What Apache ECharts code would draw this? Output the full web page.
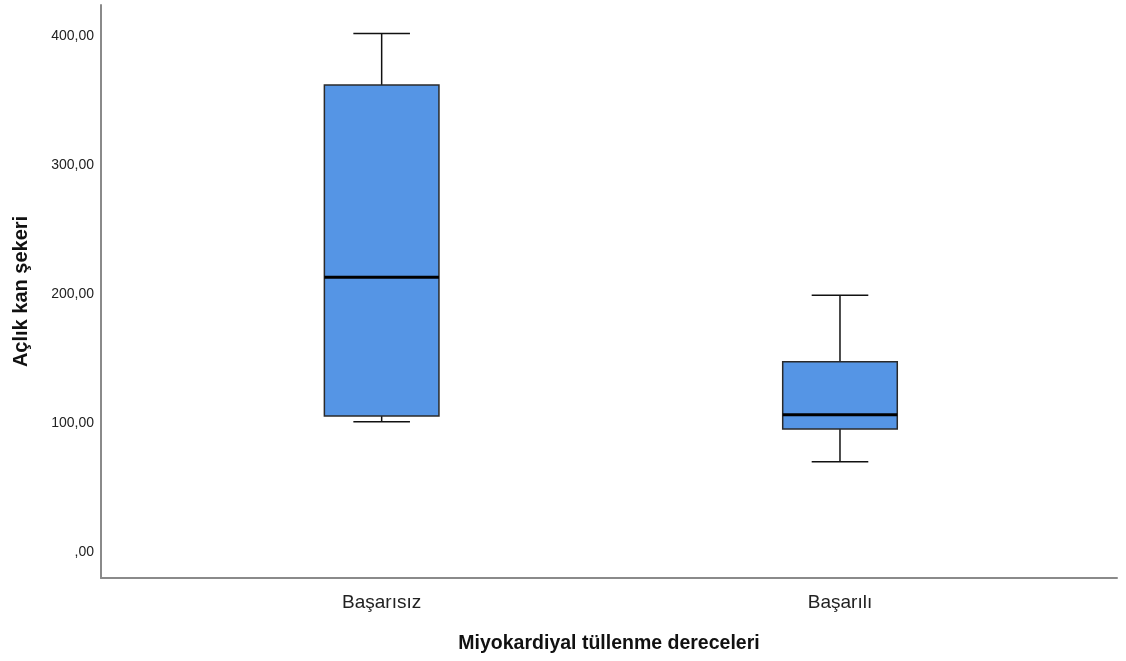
<!DOCTYPE html>
<html>
<head>
<meta charset="utf-8">
<script src="https://cdn.jsdelivr.net/npm/echarts@6/dist/echarts.min.js"></script>
<style>html,body{margin:0;padding:0;background:#fff;}#c{width:1126px;height:661px;}</style>
</head>
<body>
<div id="c"></div>
<script>
const categories = ['Başarısız', 'Başarılı'];
const minVals = [101, 70];
const q1Vals = [105.5, 95.5];
const medVals = [213, 106.5];
const q3Vals = [362, 147.5];
const maxVals = [402, 199];
const yTicks = [0, 100, 200, 300, 400];

const data = categories.map((c, i) => [i, minVals[i], q1Vals[i], medVals[i], q3Vals[i], maxVals[i]]);

function renderItem(params, api) {
  const x = api.value(0);
  const band = api.size([1, 0])[0];
  const bw = band * 0.25, cw = band * 0.1235;
  const pMin = api.coord([x, api.value(1)]);
  const pQ1 = api.coord([x, api.value(2)]);
  const pMed = api.coord([x, api.value(3)]);
  const pQ3 = api.coord([x, api.value(4)]);
  const pMax = api.coord([x, api.value(5)]);
  const cx = pMed[0];
  const lineStyle = { stroke: '#111', lineWidth: 1.5 };
  return {
    type: 'group',
    children: [
      { type: 'line', shape: { x1: cx, y1: pMax[1], x2: cx, y2: pQ3[1] }, style: lineStyle },
      { type: 'line', shape: { x1: cx, y1: pQ1[1], x2: cx, y2: pMin[1] }, style: lineStyle },
      { type: 'line', shape: { x1: cx - cw / 2, y1: pMax[1], x2: cx + cw / 2, y2: pMax[1] }, style: lineStyle },
      { type: 'line', shape: { x1: cx - cw / 2, y1: pMin[1], x2: cx + cw / 2, y2: pMin[1] }, style: lineStyle },
      { type: 'rect', shape: { x: cx - bw / 2, y: pQ3[1], width: bw, height: pQ1[1] - pQ3[1] },
        style: { fill: '#5595E5', stroke: '#2a2a2a', lineWidth: 1.5 } },
      { type: 'line', shape: { x1: cx - bw / 2, y1: pMed[1], x2: cx + bw / 2, y2: pMed[1] }, style: { stroke: '#000', lineWidth: 3 } }
    ]
  };
}

const chart = echarts.init(document.getElementById('c'), null, { renderer: 'canvas' });
const fontFam = '"Liberation Sans", Arial, sans-serif';
chart.setOption({
  backgroundColor: '#fff',
  animation: false,
  grid: [
    { left: 101, right: 9, top: 5, bottom: 83 },
    { left: 152.5, right: 56.85, top: 5, bottom: 83 }
  ],
  xAxis: [
    {
      gridIndex: 0, type: 'value', min: 0, max: 1,
      axisLine: { show: true, onZero: false, lineStyle: { color: '#8a8a8a', width: 2 } },
      axisTick: { show: false }, axisLabel: { show: false }, splitLine: { show: false },
      name: 'Miyokardiyal tüllenme dereceleri', nameLocation: 'middle', nameGap: 66,
      nameTextStyle: { fontFamily: fontFam, fontWeight: 'bold', fontSize: 19.5, color: '#111', verticalAlign: 'middle' }
    },
    {
      gridIndex: 1, type: 'category', data: categories,
      axisLine: { show: false }, axisTick: { show: false },
      axisLabel: { fontFamily: fontFam, fontSize: 19, color: '#222', margin: 15 }
    }
  ],
  yAxis: [
    {
      gridIndex: 0, type: 'value', min: -20, max: 424,
      axisLine: { show: true, onZero: false, lineStyle: { color: '#8a8a8a', width: 2 } },
      axisTick: { show: false }, splitLine: { show: false },
      axisLabel: {
        customValues: yTicks, margin: 7, fontFamily: fontFam, fontSize: 14, color: '#222',
        formatter: v => (v === 0 ? ',00' : v + ',00')
      },
      name: 'Açlık kan şekeri', nameLocation: 'middle', nameGap: 80, nameRotate: 90,
      nameTextStyle: { fontFamily: fontFam, fontWeight: 'bold', fontSize: 20, color: '#111', verticalAlign: 'middle' }
    },
    {
      gridIndex: 1, type: 'value', min: -20, max: 424, show: false
    }
  ],
  series: [{
    type: 'custom', xAxisIndex: 1, yAxisIndex: 1,
    renderItem: renderItem,
    encode: { x: 0, y: [1, 2, 3, 4, 5] },
    data: data
  }]
});
</script>
</body>
</html>
